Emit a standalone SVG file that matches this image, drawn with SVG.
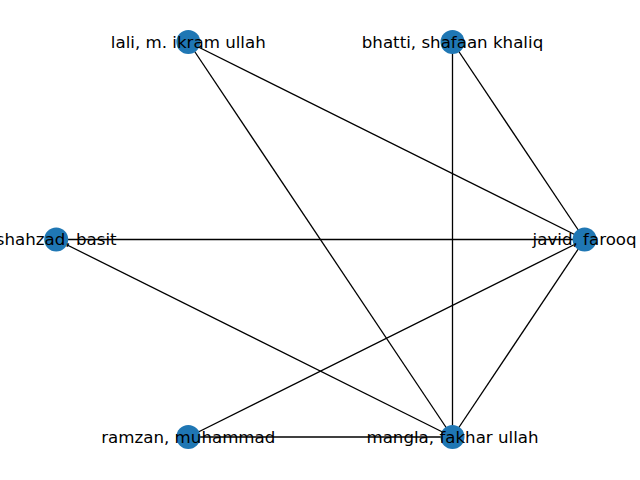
<svg xmlns="http://www.w3.org/2000/svg" width="640" height="480" viewBox="0 0 640 480">
<style>
.e{stroke:#000;stroke-width:1.3;fill:none}
.n{fill:#1f77b4}
.t{font-family:"DejaVu Sans",sans-serif;font-size:16.67px;fill:#000;text-anchor:middle;dominant-baseline:central}
</style>
<rect width="640" height="480" fill="#fff"/>
<g id="edges">
<line class="e" x1="188.3" y1="42" x2="584.6" y2="239.5"/>
<line class="e" x1="188.3" y1="42" x2="452.5" y2="437"/>
<line class="e" x1="452.5" y1="42" x2="584.6" y2="239.5"/>
<line class="e" x1="452.5" y1="42" x2="452.5" y2="437"/>
<line class="e" x1="56.2" y1="239.5" x2="584.6" y2="239.5"/>
<line class="e" x1="56.2" y1="239.5" x2="452.5" y2="437"/>
<line class="e" x1="584.6" y1="239.5" x2="188.3" y2="437"/>
<line class="e" x1="584.6" y1="239.5" x2="452.5" y2="437"/>
<line class="e" x1="188.3" y1="437" x2="452.5" y2="437"/>
</g>
<g id="lali"><circle class="n" cx="188.3" cy="42" r="12"/><text class="t" x="188.3" y="42">lali, m. ikram ullah</text></g>
<g id="bhatti"><circle class="n" cx="452.5" cy="42" r="12"/><text class="t" x="452.5" y="42">bhatti, shafaan khaliq</text></g>
<g id="shahzad"><circle class="n" cx="56.2" cy="239.5" r="12"/><text class="t" x="56.2" y="239.5">shahzad, basit</text></g>
<g id="javid"><circle class="n" cx="584.6" cy="239.5" r="12"/><text class="t" x="584.6" y="239.5">javid, farooq</text></g>
<g id="ramzan"><circle class="n" cx="188.3" cy="437" r="12"/><text class="t" x="188.3" y="437">ramzan, muhammad</text></g>
<g id="mangla"><circle class="n" cx="452.5" cy="437" r="12"/><text class="t" x="452.5" y="437">mangla, fakhar ullah</text></g>
</svg>
